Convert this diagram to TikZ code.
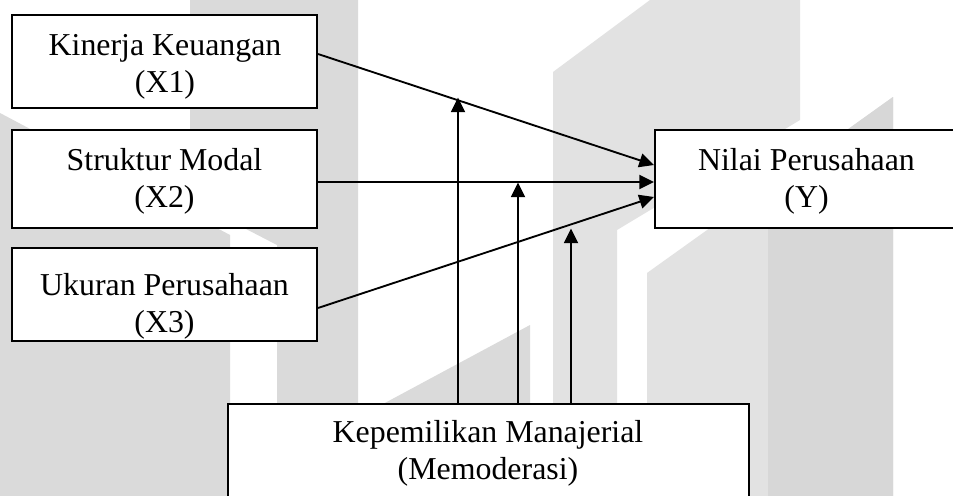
\documentclass[tikz,border=0pt]{standalone}
\usepackage{fontspec}
\setmainfont{Liberation Serif}
\usetikzlibrary{arrows.meta,calc}
\definecolor{wmA}{gray}{0.855}
\definecolor{wmB}{gray}{0.885}
\definecolor{wmC}{gray}{0.845}
\begin{document}
\begin{tikzpicture}[x=0.75pt,y=-0.75pt,
  box/.style={draw=black,fill=white,line width=1.5pt,inner sep=0pt},
  lbl/.style={font=\fontsize{23.9pt}{27.75pt}\selectfont,align=center,inner sep=0pt},
  conn/.style={line width=1.4pt,-{Triangle[length=11pt,width=10.5pt]}}]
\useasboundingbox (0,0) rectangle (953,496);
\fill[white] (0,0) rectangle (953,496);
% watermark
\fill[wmA] (0,113) -- (230,235) -- (230,496) -- (0,496) -- cycle;
\fill[wmA] (190,0) -- (358,0) -- (358,496) -- (277,496) -- (277,245) -- (190,200) -- cycle;
\fill[wmA] (383,404) -- (530,325) -- (530,404) -- cycle;
\fill[wmB] (553,72) -- (650,0) -- (800,0) -- (800,120) -- (617,230) -- (617,496) -- (553,496) -- cycle;
\fill[wmB] (647,273) -- (893,97) -- (893,496) -- (647,496) -- cycle;
\fill[wmC] (768,186.5) -- (893,97) -- (893,496) -- (768,496) -- cycle;
% boxes
\node[box,minimum width=228.75pt,minimum height=69.75pt] (x1) at (164.5,61.5) {};
\node[box,minimum width=228.75pt,minimum height=73.5pt] (x2) at (164.5,179) {};
\node[box,minimum width=228.75pt,minimum height=69.5pt] (x3) at (164.5,294.7) {};
\node[box,minimum width=227.25pt,minimum height=73.5pt] (y) at (806.5,179) {};
\node[box,minimum width=390.75pt,minimum height=72pt] (m) at (488.5,452) {};
% labels
\node[lbl] (x1t) at (165,66.7) {Kinerja Keuangan\\(X1)};
\node[lbl] (x2t) at (164.5,181.6) {Struktur Modal\\(X2)};
\node[lbl] (x3t) at (164.5,306) {Ukuran Perusahaan\\(X3)};
\node[lbl] (yt) at (806.5,181.8) {Nilai Perusahaan\\(Y)};
\node[lbl] (mt) at (488,453.7) {Kepemilikan Manajerial\\(Memoderasi)};
% connectors
\draw[conn] ($(x1.east)+(0,-7.5)$) -- ($(y.west)+(0,-14)$);
\draw[conn] ($(x2.east)+(0,3)$) -- ($(y.west)+(0,3)$);
\draw[conn] ($(x3.east)+(0,13.3)$) -- ($(y.west)+(0,18)$);
\coordinate (t1) at (458,97.5);
\coordinate (t2) at (518,182.5);
\coordinate (t3) at (571,228.5);
\draw[conn] (m.north -| t1) -- (t1);
\draw[conn] (m.north -| t2) -- (t2);
\draw[conn] (m.north -| t3) -- (t3);
\end{tikzpicture}
\end{document}
